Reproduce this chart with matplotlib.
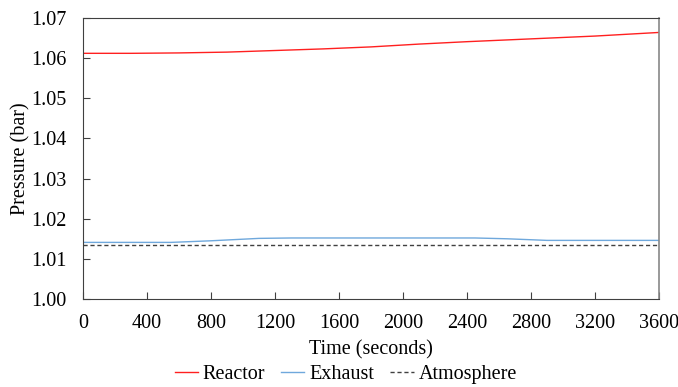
import matplotlib
matplotlib.use("Agg")
import matplotlib.pyplot as plt

# data (time in seconds, pressure in bar)
reactor_t = [0, 300, 600, 900, 1200, 1500, 1800, 2100, 2400, 2800, 3200, 3600]
reactor_p = [1.0612, 1.0612, 1.0613, 1.0615, 1.0619, 1.0623, 1.0628, 1.0635,
             1.0641, 1.0648, 1.0655, 1.0664]

exhaust_t = [0, 550, 800, 1100, 1300, 2450, 2650, 2900, 3600]
exhaust_p = [1.0141, 1.0141, 1.0145, 1.0151, 1.0152, 1.0152, 1.0150, 1.0146, 1.0146]

atmos_t = [0, 3600]
atmos_p = [1.0134, 1.0134]

x_ticks = [0, 400, 800, 1200, 1600, 2000, 2400, 2800, 3200, 3600]
y_ticks = [1.00, 1.01, 1.02, 1.03, 1.04, 1.05, 1.06, 1.07]

plt.rcParams["font.family"] = ["Liberation Serif", "DejaVu Serif"]
plt.rcParams["font.size"] = 14.5

fig = plt.figure(figsize=(6.78, 3.87), dpi=100)
ax = fig.add_axes([0.1224, 0.2274, 0.8496, 0.7261])

ax.plot(reactor_t, reactor_p, color="#ff2020", linewidth=1.0, label="Reactor")
ax.plot(exhaust_t, exhaust_p, color="#6fa8dc", linewidth=1.0, label="Exhaust")
ax.plot(atmos_t, atmos_p, color="#404040", linewidth=1.0, linestyle=(0, (3, 2)),
        label="Atmosphere")

ax.set_xlim(0, 3600)
ax.set_ylim(1.00, 1.07)
ax.set_xticks(x_ticks)
ax.set_yticks(y_ticks)
ax.set_yticklabels([f"{v:.2f}" for v in y_ticks])
ax.tick_params(axis="x", direction="in", length=5, color="#404040", pad=11)
ax.tick_params(axis="y", direction="in", length=5, color="#404040", pad=12)

for side in ["left", "bottom", "top"]:
    ax.spines[side].set_color("#404040")
ax.spines["right"].set_color("#888888")
ax.spines["right"].set_linewidth(1.2)

ax.set_xlabel("Time (seconds)", labelpad=5)
ax.set_ylabel("Pressure (bar)", labelpad=0)

fig.legend(loc="lower center", bbox_to_anchor=(0.51, -0.038), ncol=3, frameon=False,
           handlelength=1.15, handletextpad=0.25, columnspacing=0.8)

fig.savefig("out.png", dpi=100)
